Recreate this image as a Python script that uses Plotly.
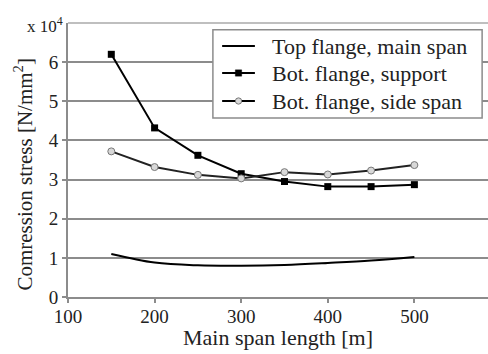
import plotly.graph_objects as go

# Main span length [m]
span = [150, 200, 250, 300, 350, 400, 450, 500]

# Compression stress, in units of 10^4 N/mm^2
top_main = [1.10, 0.88, 0.81, 0.80, 0.82, 0.87, 0.93, 1.02]
bot_support = [6.20, 4.32, 3.62, 3.15, 2.95, 2.82, 2.82, 2.87]
bot_side = [3.72, 3.32, 3.12, 3.03, 3.19, 3.13, 3.23, 3.37]

series_names = ["Top flange, main span", "Bot. flange, support", "Bot. flange, side span"]

x_ticks = [100, 200, 300, 400, 500]
y_ticks = [0, 1, 2, 3, 4, 5, 6]

x_title = "Main span length [m]"
y_title = "Comression stress [N/mm<sup>2</sup>]"

FONT = "serif"
INK = "#222222"
GRID = "#8c8c8c"

fig = go.Figure()
fig.add_trace(go.Scatter(
    x=span, y=top_main, name=series_names[0], mode="lines",
    line=dict(color="black", width=2, shape="spline"),
))
fig.add_trace(go.Scatter(
    x=span, y=bot_support, name=series_names[1], mode="lines+markers",
    line=dict(color="black", width=2),
    marker=dict(symbol="square", size=7, color="black"),
))
fig.add_trace(go.Scatter(
    x=span, y=bot_side, name=series_names[2], mode="lines+markers",
    line=dict(color="#222222", width=2),
    marker=dict(symbol="circle", size=7, color="#d8d8d8",
                line=dict(color="#777777", width=1)),
))

fig.update_layout(
    width=488, height=354,
    margin=dict(l=68, r=0, t=23, b=57),
    paper_bgcolor="white", plot_bgcolor="white",
    font=dict(family=FONT, size=20, color=INK),
    showlegend=False,
    xaxis=dict(
        range=[100, 585], tickvals=x_ticks,
        showgrid=False, zeroline=False,
        showline=True, linecolor=GRID, linewidth=2,
        ticks="outside", ticklen=4, tickcolor=GRID, tickwidth=1.5,
        ticklabelstandoff=-3,
        tickfont=dict(family=FONT, size=19, color=INK),
    ),
    yaxis=dict(
        range=[0, 7], tickvals=y_ticks,
        showgrid=True, gridcolor=GRID, gridwidth=1.5,
        zeroline=False,
        showline=True, linecolor=GRID, linewidth=2,
        ticks="outside", ticklen=4, tickcolor=GRID, tickwidth=1.5,
        tickfont=dict(family=FONT, size=19, color=INK),
    ),
)

# axis titles
fig.add_annotation(
    text=x_title, xref="paper", yref="paper", x=0.5, y=-0.148,
    xanchor="center", yanchor="middle", showarrow=False,
    font=dict(family=FONT, size=22, color=INK),
)
fig.add_annotation(
    text=y_title, xref="paper", yref="paper", x=-0.105, y=0.45,
    xanchor="center", yanchor="middle", showarrow=False, textangle=-90,
    font=dict(family=FONT, size=21, color=INK),
)

# top boundary line of the plot area
fig.add_shape(type="line", xref="paper", yref="paper", x0=0, x1=1, y0=1, y1=1,
              line=dict(color="#aaaaaa", width=1.5))

# legend box drawn in paper coordinates
fig.add_shape(type="rect", xref="paper", yref="paper",
              x0=0.345, x1=0.986, y0=0.653, y1=0.975,
              fillcolor="white", line=dict(color="#8c8c8c", width=1.5), layer="above")

row_y = [0.916, 0.8175, 0.7153]
sample_x0, sample_x1, sample_xc = 0.367, 0.445, 0.406
mx, my = 0.0075, 0.0115  # marker half-size in paper units
for i, (name, yy) in enumerate(zip(series_names, row_y)):
    fig.add_shape(type="line", xref="paper", yref="paper",
                  x0=sample_x0, x1=sample_x1, y0=yy, y1=yy,
                  line=dict(color="black", width=2), layer="above")
    if i == 1:
        fig.add_shape(type="rect", xref="paper", yref="paper",
                      x0=sample_xc - mx, x1=sample_xc + mx, y0=yy - my, y1=yy + my,
                      fillcolor="black", line=dict(color="black", width=0.5), layer="above")
    elif i == 2:
        fig.add_shape(type="circle", xref="paper", yref="paper",
                      x0=sample_xc - mx, x1=sample_xc + mx, y0=yy - my, y1=yy + my,
                      fillcolor="#d8d8d8", line=dict(color="#777777", width=1), layer="above")
    fig.add_annotation(
        text=name, xref="paper", yref="paper", x=0.481, y=yy,
        xanchor="left", yanchor="middle", showarrow=False,
        font=dict(family=FONT, size=22, color=INK),
    )

fig.add_annotation(
    text="x 10<sup>4</sup>", xref="paper", yref="paper",
    x=-0.006, y=0.945, xanchor="right", yanchor="bottom", showarrow=False,
    font=dict(family=FONT, size=17, color=INK),
)

fig.write_html("out.html")
